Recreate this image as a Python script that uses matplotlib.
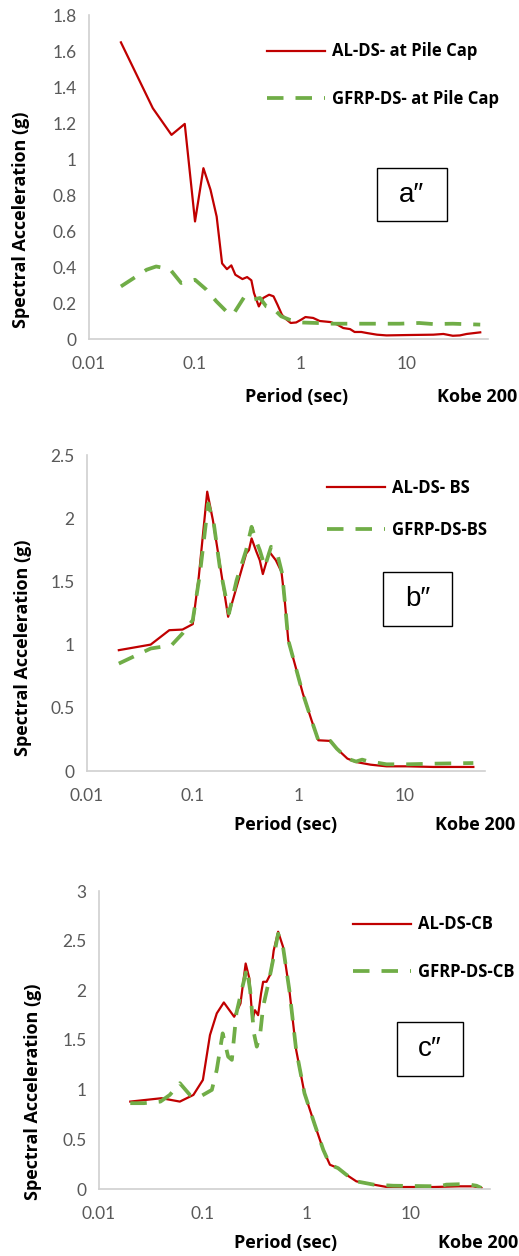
import numpy as np
import matplotlib.pyplot as plt
from matplotlib.patches import Rectangle

# ---- data (period in sec, Sa in g) ----
a_al_T = [0.02, 0.04, 0.06, 0.08, 0.1, 0.12, 0.14, 0.16, 0.18, 0.2, 0.22, 0.24, 0.28, 0.31,
          0.34, 0.36, 0.40, 0.44, 0.50, 0.55, 0.60, 0.66, 0.72, 0.80, 0.9, 1.0, 1.1, 1.3,
          1.5, 1.9, 2.2, 2.5, 2.9, 3.2, 3.7, 4.2, 5.2, 6.4, 10, 17.7, 22, 27, 31.5, 36.5, 49]
a_al_Sa = [1.648, 1.282, 1.134, 1.195, 0.653, 0.949, 0.829, 0.68, 0.42, 0.388, 0.409, 0.357,
           0.333, 0.344, 0.326, 0.255, 0.181, 0.228, 0.246, 0.237, 0.19, 0.135, 0.111, 0.089,
           0.092, 0.107, 0.122, 0.117, 0.10, 0.094, 0.08, 0.061, 0.055, 0.039, 0.039, 0.033,
           0.024, 0.02, 0.022, 0.024, 0.028, 0.018, 0.02, 0.028, 0.037]
a_gf_T = [0.02, 0.035, 0.043, 0.058, 0.074, 0.1, 0.128, 0.159, 0.197, 0.228, 0.25, 0.294,
          0.35, 0.41, 0.47, 0.54, 0.65, 0.78, 0.97, 1.4, 2.0, 3.1, 5.9, 8.5, 13, 17.7, 27, 49]
a_gf_Sa = [0.292, 0.385, 0.403, 0.388, 0.311, 0.329, 0.274, 0.209, 0.154, 0.135, 0.172, 0.237,
           0.218, 0.228, 0.181, 0.172, 0.126, 0.107, 0.092, 0.089, 0.085, 0.085, 0.085, 0.085,
           0.089, 0.083, 0.085, 0.08]

b_al_T = [0.02, 0.04, 0.06, 0.08, 0.1, 0.114, 0.137, 0.155, 0.18, 0.216, 0.26, 0.32, 0.34,
          0.36, 0.40, 0.43, 0.46, 0.53, 0.61, 0.69, 0.74, 0.80, 0.92, 1.1, 1.33, 1.54, 2.0,
          2.3, 2.9, 3.5, 4.8, 6.8, 10.5, 18.9, 25, 45]
b_al_Sa = [0.956, 1.0, 1.114, 1.119, 1.162, 1.536, 2.21, 1.985, 1.642, 1.22, 1.457, 1.72,
           1.748, 1.84, 1.734, 1.668, 1.558, 1.734, 1.668, 1.576, 1.352, 1.035, 0.85, 0.612,
           0.40, 0.243, 0.238, 0.177, 0.098, 0.071, 0.05, 0.037, 0.037, 0.032, 0.032, 0.032]
b_gf_T = [0.02, 0.04, 0.063, 0.08, 0.1, 0.117, 0.14, 0.158, 0.18, 0.22, 0.26, 0.32, 0.36,
          0.40, 0.43, 0.48, 0.55, 0.64, 0.70, 0.74, 0.80, 0.92, 1.1, 1.33, 1.54, 2.0, 2.3,
          2.9, 3.5, 4.0, 4.4, 6.8, 10.5, 18.9, 45]
b_gf_Sa = [0.85, 0.969, 0.995, 1.088, 1.193, 1.563, 2.117, 1.96, 1.616, 1.246, 1.51, 1.748,
           1.932, 1.814, 1.748, 1.616, 1.774, 1.695, 1.563, 1.352, 1.035, 0.85, 0.612, 0.40,
           0.243, 0.238, 0.177, 0.098, 0.075, 0.09, 0.08, 0.053, 0.053, 0.058, 0.063]

c_al_T = [0.02, 0.04, 0.06, 0.081, 0.1, 0.117, 0.136, 0.159, 0.18, 0.20, 0.23, 0.258, 0.28,
          0.30, 0.317, 0.34, 0.363, 0.38, 0.41, 0.45, 0.48, 0.53, 0.59, 0.68, 0.79, 0.95,
          1.18, 1.44, 1.67, 2.0, 2.4, 3.0, 4.4, 5.9, 9.9, 16.6, 29.6, 40, 48]
c_al_Sa = [0.88, 0.914, 0.88, 0.947, 1.098, 1.55, 1.768, 1.878, 1.80, 1.734, 1.868, 2.27,
           2.12, 1.70, 1.80, 1.75, 1.968, 2.086, 2.086, 2.17, 2.40, 2.59, 2.44, 2.00, 1.40,
           0.964, 0.663, 0.395, 0.244, 0.21, 0.144, 0.077, 0.044, 0.02, 0.02, 0.02, 0.027,
           0.027, 0.01]
c_gf_T = [0.02, 0.027, 0.039, 0.048, 0.06, 0.075, 0.094, 0.122, 0.136, 0.155, 0.175, 0.19,
          0.21, 0.236, 0.265, 0.285, 0.31, 0.33, 0.355, 0.38, 0.43, 0.48, 0.53, 0.59, 0.68,
          0.79, 0.95, 1.18, 1.44, 1.67, 2.0, 2.4, 3.0, 4.4, 6.8, 19, 22, 34, 43, 48]
c_gf_Sa = [0.864, 0.864, 0.88, 0.947, 1.065, 0.947, 0.93, 0.998, 1.2, 1.567, 1.332, 1.30,
           1.768, 2.0, 2.22, 2.0, 1.567, 1.433, 1.55, 1.835, 2.086, 2.337, 2.57, 2.44, 2.00,
           1.40, 0.964, 0.663, 0.395, 0.244, 0.21, 0.144, 0.077, 0.044, 0.033, 0.027, 0.044,
           0.05, 0.033, 0.01]

panels = [
    dict(al=(a_al_T, a_al_Sa), gf=(a_gf_T, a_gf_Sa), labels=["AL-DS- at Pile Cap", "GFRP-DS- at Pile Cap"],
         tag="a\u2033", ymax=1.8, ystep=0.2,
         rect=[89, 15, 488, 339], leg=(267, 75, 1.75), box=(377, 168, 447, 221),
         ylab=(21, 220), xlab=(297, 397), kobe=(517, 397)),
    dict(al=(b_al_T, b_al_Sa), gf=(b_gf_T, b_gf_Sa), labels=["AL-DS- BS", "GFRP-DS-BS"],
         tag="b\u2033", ymax=2.5, ystep=0.5,
         rect=[87, 455, 485, 771], leg=(327, 509, 1.4), box=(383, 572, 452, 626),
         ylab=(23, 648), xlab=(286, 825), kobe=(515, 825)),
    dict(al=(c_al_T, c_al_Sa), gf=(c_gf_T, c_gf_Sa), labels=["AL-DS-CB", "GFRP-DS-CB"],
         tag="c\u2033", ymax=3.0, ystep=0.5,
         rect=[99, 891, 490, 1189], leg=(353, 948, 1.75), box=(397, 1022, 463, 1076),
         ylab=(33, 1092), xlab=(286, 1243), kobe=(518, 1243)),
]

W, H = 519, 1256
RED = "#C00000"
GREEN = "#70AD47"
GREY = "#595959"
TICKFONT = "Lato"
BOLDFONT = "Open Sans"

fig = plt.figure(figsize=(W / 100, H / 100), dpi=100)


def fx(px):
    return px / W


def fy(py):
    return 1 - py / H


for p in panels:
    x0, y0, x1, y1 = p["rect"]
    ax = fig.add_axes([fx(x0), fy(y1), fx(x1) - fx(x0), fy(y0) - fy(y1)])
    ax.plot(*p["al"], color=RED, lw=1.6, label=p["labels"][0], solid_joinstyle="round")
    ax.plot(*p["gf"], color=GREEN, lw=2.7, dashes=(4.4, 3.2), label=p["labels"][1])
    ax.set_xscale("log")
    ax.set_xlim(0.01, 58)
    ax.set_ylim(0, p["ymax"])
    ax.set_xticks([0.01, 0.1, 1, 10])
    ax.set_xticklabels(["0.01", "0.1", "1", "10"])
    ax.xaxis.set_minor_locator(plt.NullLocator())
    yt = np.arange(0, p["ymax"] + 1e-9, p["ystep"])
    ax.set_yticks(yt)
    ax.set_yticklabels(["{:g}".format(round(v, 1)) for v in yt])
    ax.tick_params(length=0, labelsize=12.5, colors=GREY, pad=9)
    ax.tick_params(axis="x", pad=12)
    for lab in ax.get_xticklabels() + ax.get_yticklabels():
        lab.set_fontfamily(TICKFONT)
    for s in ["top", "right"]:
        ax.spines[s].set_visible(False)
    for s in ["left", "bottom"]:
        ax.spines[s].set_color("#D0D0D0")
        ax.spines[s].set_linewidth(1.2)
    ax.patch.set_alpha(0)

    lx, ly, lsp = p["leg"]
    ax.legend(loc="center left", bbox_to_anchor=(fx(lx), fy(ly)), bbox_transform=fig.transFigure,
              frameon=False, borderpad=0, borderaxespad=0, handlelength=3.5, handletextpad=0.4,
              labelspacing=lsp, prop=dict(family=BOLDFONT, weight="bold", size=12))

    bx0, by0, bx1, by1 = p["box"]
    fig.patches.append(Rectangle((fx(bx0), fy(by1)), fx(bx1) - fx(bx0), fy(by0) - fy(by1),
                                 transform=fig.transFigure, fill=False, edgecolor="black", lw=1.0))
    fig.text(fx((bx0 + bx1) / 2), fy((by0 + by1) / 2), p["tag"], ha="center", va="center",
             fontsize=20, family="Liberation Sans")

    fig.text(fx(p["ylab"][0]), fy(p["ylab"][1]), "Spectral Acceleration (g)", rotation=90,
             ha="center", va="center", fontsize=13, fontweight="bold", family=BOLDFONT)
    fig.text(fx(p["xlab"][0]), fy(p["xlab"][1]), "Period (sec)", ha="center", va="center",
             fontsize=13, fontweight="bold", family=BOLDFONT)
    fig.text(fx(p["kobe"][0]), fy(p["kobe"][1]), "Kobe 200", ha="right", va="center",
             fontsize=13, fontweight="bold", family=BOLDFONT)

fig.savefig("out.png", dpi=100)
